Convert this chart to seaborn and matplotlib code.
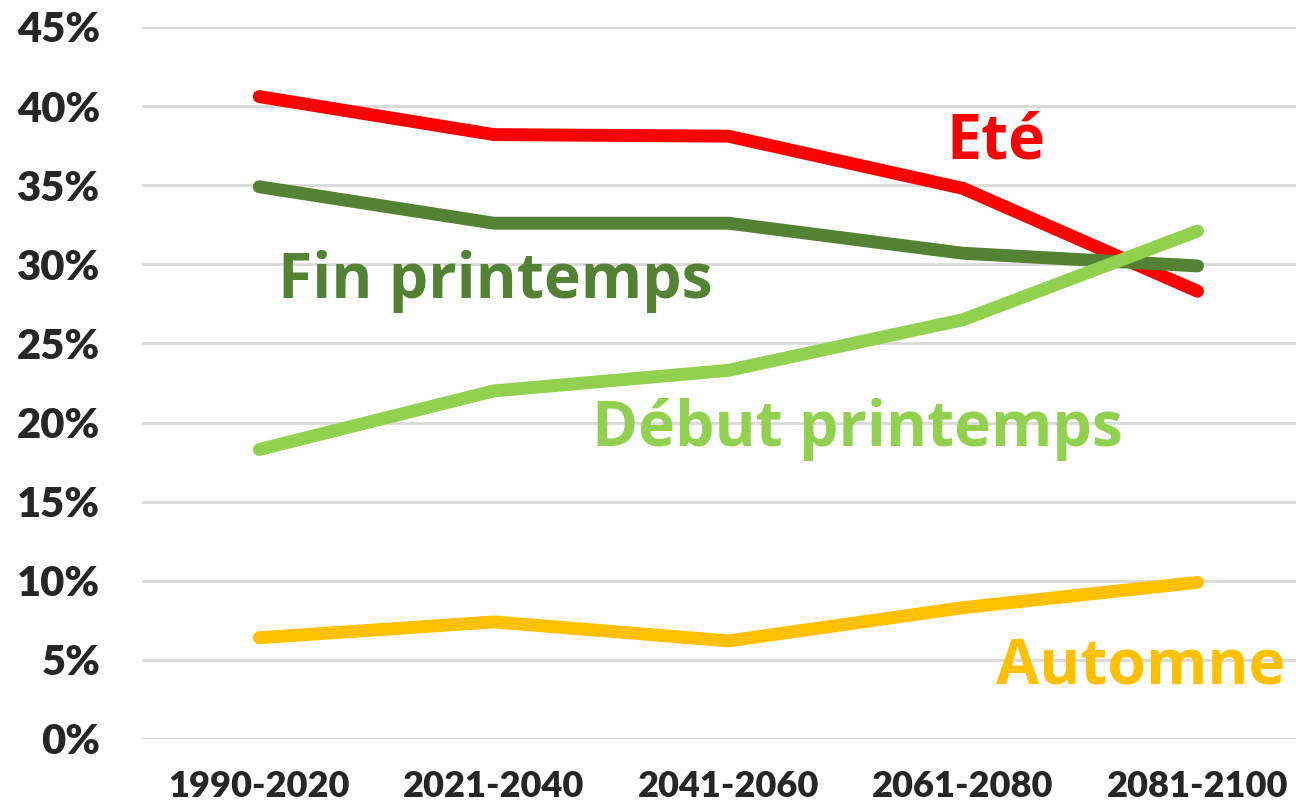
import pandas as pd
import seaborn as sns
import matplotlib.pyplot as plt
from matplotlib.ticker import PercentFormatter

periods = ['1990-2020', '2021-2040', '2041-2060', '2061-2080', '2081-2100']
ete = [0.406, 0.382, 0.381, 0.348, 0.283]
fin_printemps = [0.349, 0.326, 0.326, 0.307, 0.299]
debut_printemps = [0.183, 0.220, 0.233, 0.265, 0.321]
automne = [0.064, 0.074, 0.062, 0.083, 0.099]

series = ['Eté', 'Fin printemps', 'Début printemps', 'Automne']
colors = ['#FF0000', '#548235', '#92D050', '#FFC000']

df = pd.DataFrame({
    'period': periods * 4,
    'value': ete + fin_printemps + debut_printemps + automne,
    'saison': [s for s in series for _ in periods],
})
df['x'] = df['period'].map({p: i for i, p in enumerate(periods)})

sns.set_style('white')
plt.rcParams['font.family'] = ['Lato', 'DejaVu Sans']

fig = plt.figure(figsize=(12.96, 8.07), dpi=100)
ax = fig.add_axes([142 / 1296, 1 - 739 / 807, 1 - 142 / 1296, (739 - 27) / 807])

for s, c in zip(series, colors):
    sub = df[df['saison'] == s]
    sns.lineplot(x='x', y='value', data=sub, color=c, linewidth=9.3,
                 solid_capstyle='round', solid_joinstyle='round', ax=ax, legend=False)

ax.set_xlim(-0.5, 4.42)
ax.set_ylim(0, 0.45)
ax.set_yticks([i * 0.05 for i in range(10)])
ax.yaxis.set_major_formatter(PercentFormatter(1.0, decimals=0))
ax.set_xticks(range(len(periods)))
ax.set_xticklabels(periods)
ax.grid(axis='y', color='#D9D9D9', linewidth=2)
ax.set_axisbelow(True)
for sp in ax.spines.values():
    sp.set_visible(False)
ax.tick_params(axis='y', labelsize=30, pad=30, length=0)
ax.tick_params(axis='x', labelsize=26, pad=22, length=0)
for lbl in ax.get_xticklabels() + ax.get_yticklabels():
    lbl.set_fontweight('heavy')
ax.set_xlabel('')
ax.set_ylabel('')

lab_font = ['Open Sans', 'DejaVu Sans']
labels = [
    ('Eté', 2.93, 0.367, '#FF0000'),
    ('Fin printemps', 0.08, 0.279, '#548235'),
    ('Début printemps', 1.42, 0.185, '#92D050'),
    ('Automne', 3.14, 0.035, '#FFC000'),
]
for txt, x, y, c in labels:
    ax.text(x, y, txt, color=c, fontsize=45, fontweight='bold',
            family=lab_font, ha='left', va='baseline')

fig.savefig('out.png', dpi=100)
